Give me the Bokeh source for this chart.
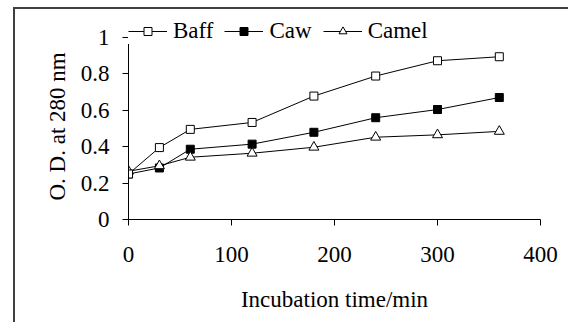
from bokeh.plotting import figure
from bokeh.models import Range1d, Legend, LegendItem, FixedTicker, Title
from bokeh.embed import file_html
from bokeh.resources import INLINE

time_min = [0, 30, 60, 120, 180, 240, 300, 360]
baff = [0.25, 0.395, 0.495, 0.533, 0.678, 0.788, 0.872, 0.894]
caw = [0.25, 0.283, 0.386, 0.414, 0.479, 0.559, 0.604, 0.670]
camel = [0.265, 0.295, 0.342, 0.364, 0.397, 0.452, 0.465, 0.484]
x_ticks = [0, 100, 200, 300, 400]
y_ticks = [0, 0.2, 0.4, 0.6, 0.8, 1]
series_names = ["Baff", "Caw", "Camel"]
x_title = "Incubation time/min"
y_title = "O. D. at 280 nm"

FONT = "'Liberation Serif', 'Times New Roman', serif"
FS = "23px"

border_css = """
:host::after {
  content: "";
  position: absolute;
  left: 13px; top: 7px; right: 0px; bottom: 0px;
  border-left: 2px solid #404040;
  border-top: 2px solid #404040;
  pointer-events: none;
}
"""

p = figure(width=568, height=322, output_backend="svg", toolbar_location=None,
           x_range=Range1d(0, 400), y_range=Range1d(0, 1.137),
           min_border_left=128, min_border_right=28, min_border_top=12, min_border_bottom=103,
           stylesheets=[border_css])
p.outline_line_color = None
p.xgrid.visible = False
p.ygrid.visible = False
p.background_fill_color = "white"
p.border_fill_color = "white"

for ax in (p.xaxis[0], p.yaxis[0]):
    ax.axis_line_color = "black"
    ax.axis_line_width = 1
    ax.major_tick_line_color = "black"
    ax.major_tick_in = 0
    ax.major_tick_out = 6
    ax.minor_tick_line_color = None
    ax.major_label_text_font = FONT
    ax.major_label_text_font_size = FS
    ax.major_label_text_color = "black"
    ax.axis_label_text_font = FONT
    ax.axis_label_text_font_size = FS
    ax.axis_label_text_font_style = "normal"
    ax.axis_label_text_color = "black"

p.yaxis.bounds = (0, 1)
p.xaxis.ticker = FixedTicker(ticks=x_ticks)
p.yaxis.ticker = FixedTicker(ticks=y_ticks)
p.yaxis.major_label_overrides = {0: "0", 0.2: "0.2", 0.4: "0.4", 0.6: "0.6", 0.8: "0.8", 1: "1"}
p.xaxis.axis_label = x_title
p.xaxis.major_label_standoff = 21
p.xaxis.axis_label_standoff = 22
p.yaxis.major_label_standoff = 13

ytitle = Title(text=y_title, align="left", offset=19, standoff=15,
               text_font=FONT, text_font_size=FS, text_font_style="normal", text_color="black")
p.add_layout(ytitle, "left")

l1 = p.line(time_min, baff, line_color="black", line_width=1)
m1 = p.scatter(time_min, baff, marker="square", size=8, fill_color="white", line_color="black", line_width=1)
l2 = p.line(time_min, caw, line_color="black", line_width=1)
m2 = p.scatter(time_min, caw, marker="square", size=8, fill_color="black", line_color="black", line_width=1)
l3 = p.line(time_min, camel, line_color="black", line_width=1)
m3 = p.scatter(time_min, camel, marker="triangle", size=10, fill_color="white", line_color="black", line_width=1)
p.renderers.remove(m1)
p.renderers.append(m1)

legend = Legend(items=[
    LegendItem(label=series_names[0], renderers=[l1, m1]),
    LegendItem(label=series_names[1], renderers=[l2, m2]),
    LegendItem(label=series_names[2], renderers=[l3, m3]),
], orientation="horizontal", location=(0, 175))
legend.glyph_width = 39
legend.glyph_height = 20
legend.label_standoff = 6
legend.spacing = 11
legend.padding = 3
legend.margin = 0
legend.border_line_color = None
legend.background_fill_color = "white"
legend.background_fill_alpha = 1
legend.label_text_font = FONT
legend.label_text_font_size = FS
legend.label_text_color = "black"
p.add_layout(legend, "center")

open("out.html", "w").write(file_html(p, INLINE))
